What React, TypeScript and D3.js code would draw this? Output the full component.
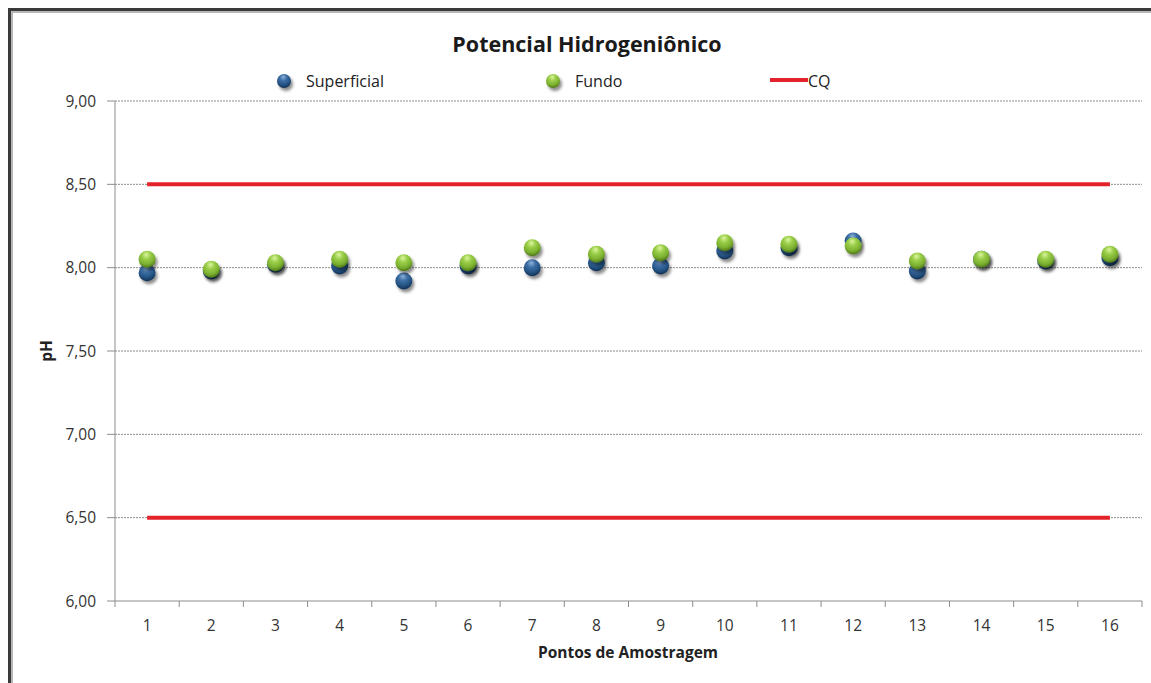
import React from "react";
import * as d3 from "d3";

// Sampling points and measured pH values
const points: string[] = ["1", "2", "3", "4", "5", "6", "7", "8", "9", "10", "11", "12", "13", "14", "15", "16"];
const superficial: number[] = [7.97, 7.98, 8.02, 8.01, 7.92, 8.01, 8.0, 8.03, 8.01, 8.1, 8.12, 8.16, 7.98, 8.05, 8.04, 8.06];
const fundo: number[] = [8.05, 7.99, 8.03, 8.05, 8.03, 8.03, 8.12, 8.08, 8.09, 8.15, 8.14, 8.13, 8.04, 8.05, 8.05, 8.08];
// Quality-control limits (CQ)
const cqLimits: number[] = [8.5, 6.5];
const yTicks: number[] = [6, 6.5, 7, 7.5, 8, 8.5, 9];

const W = 1151;
const H = 683;
const plot = { left: 115, right: 1142, top: 101, bottom: 601 };
const FONT = "'Open Sans', 'Noto Sans', sans-serif";

const fmt = (v: number) => v.toFixed(2).replace(".", ",");

export default function App() {
  const x = d3.scaleBand<string>().domain(points).range([plot.left, plot.right]);
  const y = d3.scaleLinear().domain([6, 9]).range([plot.bottom, plot.top]);
  const cx = (p: string) => (x(p) as number) + x.bandwidth() / 2;
  const boundaries = d3.range(points.length + 1).map((i) => plot.left + i * x.bandwidth());
  const r = 8.5;

  const marker = (key: string, px: number, py: number, grad: string) => (
    <circle key={key} cx={px} cy={py} r={r} fill={`url(#${grad})`} filter="url(#shadow)" />
  );

  return (
    <svg width={W} height={H} style={{ position: "absolute", left: 0, top: 0, background: "#fff" }}>
      <defs>
        <radialGradient id="gBlue" cx="0.45" cy="0.3" r="0.7" fx="0.45" fy="0.22">
          <stop offset="0" stopColor="#8fb2da" />
          <stop offset="0.35" stopColor="#3d6fa6" />
          <stop offset="0.75" stopColor="#22507f" />
          <stop offset="1" stopColor="#122f52" />
        </radialGradient>
        <radialGradient id="gGreen" cx="0.45" cy="0.3" r="0.7" fx="0.45" fy="0.22">
          <stop offset="0" stopColor="#dcf5a0" />
          <stop offset="0.35" stopColor="#9bcf4a" />
          <stop offset="0.75" stopColor="#79ad2e" />
          <stop offset="1" stopColor="#4c7418" />
        </radialGradient>
        <filter id="shadow" x="-50%" y="-50%" width="220%" height="220%">
          <feDropShadow dx="2" dy="3" stdDeviation="1.6" floodColor="#000" floodOpacity="0.45" />
        </filter>
      </defs>

      {/* chart frame */}
      <rect x={9.5} y={9.5} width={W + 20} height={H + 20} fill="none" stroke="#3a3a3a" strokeWidth={3} />
      <rect x={12} y={12} width={W + 20} height={H + 20} fill="none" stroke="#a0a0a0" strokeWidth={1.5} />

      {/* title */}
      <text x={587} y={52} textAnchor="middle" fontFamily={FONT} fontWeight={700} fontSize={21.5} fill="#1a1a1a">
        Potencial Hidrogeniônico
      </text>

      {/* legend */}
      <g fontFamily={FONT} fontSize={16} fill="#222">
        <circle cx={284} cy={81} r={7} fill="url(#gBlue)" filter="url(#shadow)" />
        <text x={306} y={86.5}>Superficial</text>
        <circle cx={553} cy={81} r={7} fill="url(#gGreen)" filter="url(#shadow)" />
        <text x={575} y={86.5}>Fundo</text>
        <line x1={770} x2={808} y1={80} y2={80} stroke="#e3232a" strokeWidth={4} />
        <text x={808} y={86.5}>CQ</text>
      </g>

      {/* gridlines and y ticks */}
      {yTicks.map((t) => (
        <g key={t}>
          {t > 6 && (
            <line x1={plot.left} x2={plot.right} y1={y(t)} y2={y(t)} stroke="#6e6e6e" strokeWidth={0.8} strokeDasharray="2,1" />
          )}
          <line x1={plot.left - 8} x2={plot.left} y1={y(t)} y2={y(t)} stroke="#8c8c8c" strokeWidth={1} />
          <text x={96} y={y(t)} dy="0.36em" textAnchor="end" fontFamily={FONT} fontSize={15.5} fill="#333">
            {fmt(t)}
          </text>
        </g>
      ))}

      {/* axes */}
      <line x1={plot.left} x2={plot.left} y1={plot.top} y2={plot.bottom} stroke="#8c8c8c" strokeWidth={1} />
      <line x1={plot.left} x2={plot.right} y1={plot.bottom} y2={plot.bottom} stroke="#8c8c8c" strokeWidth={1.2} />
      {boundaries.map((b, i) => (
        <line key={i} x1={b} x2={b} y1={plot.bottom} y2={plot.bottom + 6} stroke="#8c8c8c" strokeWidth={1} />
      ))}
      {points.map((p) => (
        <text key={p} x={cx(p)} y={631} textAnchor="middle" fontFamily={FONT} fontSize={15.5} fill="#333">
          {p}
        </text>
      ))}

      {/* axis titles */}
      <text x={628} y={658} textAnchor="middle" fontFamily={FONT} fontWeight={700} fontSize={15.5} fill="#222">
        Pontos de Amostragem
      </text>
      <text transform={`translate(52,351) rotate(-90)`} textAnchor="middle" fontFamily={FONT} fontWeight={700} fontSize={15.5} fill="#222">
        pH
      </text>

      {/* CQ limit lines */}
      {cqLimits.map((v) => (
        <line key={v} x1={cx(points[0])} x2={cx(points[points.length - 1])} y1={y(v)} y2={y(v)} stroke="#e3232a" strokeWidth={4} />
      ))}

      {/* markers: surface first, bottom on top */}
      {points.map((p, i) => marker(`s${p}`, cx(p), y(superficial[i]), "gBlue"))}
      {points.map((p, i) => marker(`f${p}`, cx(p), y(fundo[i]), "gGreen"))}
    </svg>
  );
}
